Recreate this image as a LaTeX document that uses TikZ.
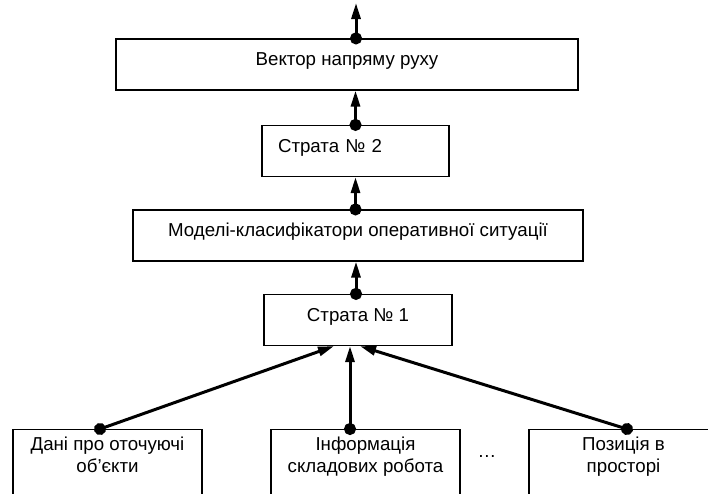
\documentclass[tikz,border=0pt]{standalone}
\usepackage{fontspec}
\setmainfont{Liberation Sans}
\usetikzlibrary{calc}
\usetikzlibrary{arrows.meta}
\usetikzlibrary{positioning}
\tikzset{>=latex}
\tikzstyle{blk} = [rectangle, draw=black, line width=1.2pt, minimum height=51pt, text height=13pt, text depth=11pt, inner sep=0pt]
\tikzstyle{src} = [rectangle, draw=black, line width=1.2pt, anchor=north, align=center, minimum width=189pt, inner ysep=7pt, text depth=80pt]
\tikzstyle{link} = [line width=3pt, {Circle[length=12pt, sep=-6pt]}-{Triangle[length=16pt, width=9pt]}]

\begin{document}
\begin{tikzpicture}[x=1pt, y=-1pt, font=\fontsize{18.7}{22}\selectfont]
\useasboundingbox (0,0) rectangle (708,493);
\node [blk, minimum width=462pt] (vec) at (347,64.5) {Вектор напряму руху};
\node [blk, minimum width=187pt, text width=155pt, align=left, inner xsep=16pt] (s2) at (355.5,151) {Страта № 2};
\node [blk, minimum width=450pt] (mod) at (358,235.5) {Моделі-класифікатори оперативної ситуації};
\node [blk, minimum width=188pt] (s1) at (358,320) {Страта № 1};
\node [src] (dat) at (107.5,429) {Дані про оточуючі\\об’єкти};
\node [src] (inf) at (365.5,429) {Інформація\\складових робота};
\node [src] (pos) at (623.5,429) {Позиція в\\просторі};
\node [draw=none] (dots) at (487,456) {…};
\coordinate (up) at (356,3);
\draw [link] ([xshift=9pt]vec.north) -- (up);
\draw [link] (s2.north) -- (s2.north |- vec.south);
\draw [link] (mod.north -| s2.north) -- (s2.south);
\draw [link] ([xshift=-2pt]s1.north) -- ([xshift=-2pt]s1.north |- mod.south);
\draw [link] ([xshift=-7.5pt]dat.north) -- ([xshift=-24pt]s1.south);
\draw [link] ([xshift=-15.5pt]inf.north) -- ([xshift=-8pt]s1.south);
\draw [link] ([xshift=3.5pt]pos.north) -- ([xshift=2pt]s1.south);
\end{tikzpicture}
\end{document}
